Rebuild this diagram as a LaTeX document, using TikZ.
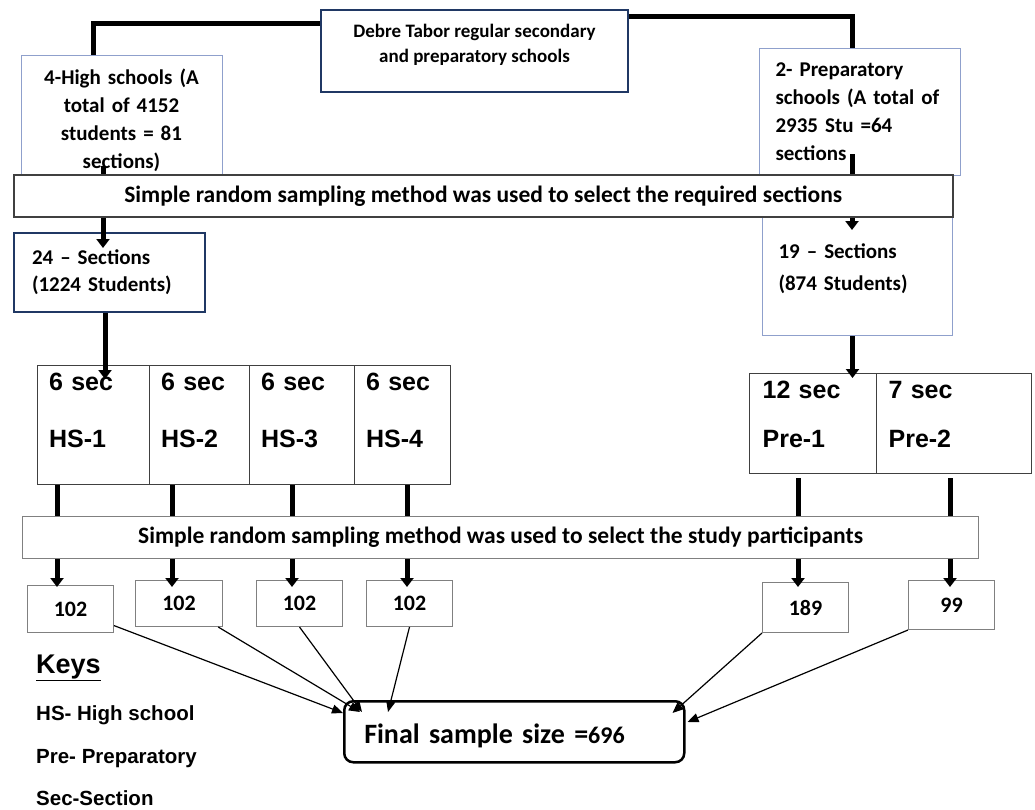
\documentclass[tikz,border=0pt]{standalone}
\usepackage{fontspec}
\setmainfont{Carlito}
\newfontfamily\arialfont{Liberation Sans}
\usetikzlibrary{arrows.meta}
\usetikzlibrary{positioning}

\definecolor{navyline}{RGB}{32,56,100}
\definecolor{paleline}{RGB}{143,160,204}
\definecolor{darkline}{RGB}{64,64,64}
\definecolor{greyline}{RGB}{128,128,128}

\tikzstyle{navybox} = [rectangle, draw=navyline, line width=2pt, anchor=north west]
\tikzstyle{palebox} = [rectangle, draw=paleline, line width=1pt, fill=white]
\tikzstyle{bodytext} = [font=\bfseries\fontsize{21}{28}\selectfont]
\tikzstyle{selbar} = [rectangle, fill=white, anchor=north west, minimum height=42pt, font=\bfseries\fontsize{23.5}{28}\selectfont]
\tikzstyle{secbox} = [rectangle, draw=darkline, line width=1.2pt, anchor=north west, align=left, inner ysep=0pt, font=\arialfont\bfseries\fontsize{25}{57}\selectfont]
\tikzstyle{numbox} = [rectangle, draw=greyline, line width=1pt, fill=white, anchor=north west, minimum width=86pt, font=\bfseries\fontsize{22}{26}\selectfont]
\tikzstyle{keytext} = [anchor=base west, inner sep=0pt, font=\arialfont\bfseries\fontsize{20.5}{24}\selectfont]
\tikzstyle{bigline} = [line width=5pt]
\tikzstyle{bigarrow} = [line width=5pt, -{Triangle[width=13pt,length=9pt]}]
\tikzstyle{thinarrow} = [line width=1.2pt, -{Triangle[width=9pt,length=11pt]}]

\begin{document}
\begin{tikzpicture}[x=1pt, y=-1pt]
\useasboundingbox (0,0) rectangle (1035,809);

% schools
\node (top) [navybox, minimum width=307pt, minimum height=82pt, align=center, text depth=15pt, font=\bfseries\fontsize{19}{25}\selectfont] at (320,9) {Debre Tabor regular secondary\\and preparatory schools};
\node (high) [palebox, bodytext, anchor=north, text width=180pt, inner xsep=10.5pt, inner ysep=13pt, align=center] at (121.5,55) {4-High schools (A\\total of 4152\\students = 81\\sections)};
\node (prep) [palebox, bodytext, anchor=north west, text width=169pt, inner xsep=16pt, inner ysep=14.5pt, align=left] at (759,48) {2- Preparatory\\schools (A total of\\2935 Stu =64\\sections};

% sampled sections
\node (sec24) [navybox, bodytext, minimum width=191pt, minimum height=79pt, text width=155pt, inner xsep=18pt, align=left, font=\bfseries\fontsize{21}{27}\selectfont] at (13,232) {24 -- Sections\\(1224 Students)};
\node (sec19) [palebox, bodytext, anchor=north west, minimum width=190pt, minimum height=119pt, text width=158pt, inner xsep=16pt, align=left, text depth=49.5pt, font=\bfseries\fontsize{21}{32}\selectfont] at (762,216) {19 -- Sections\\(874 Students)};

% schools with their sections
\node (hs1) [secbox, minimum width=112pt, minimum height=119pt, text width=89pt, inner xsep=11.5pt, text depth=87pt] at (37,365) {6 sec\\HS-1};
\node (hs2) [secbox, minimum width=100pt, minimum height=119pt, text width=77pt, inner xsep=11.5pt, text depth=87pt] at (149,365) {6 sec\\HS-2};
\node (hs3) [secbox, minimum width=105pt, minimum height=119pt, text width=82pt, inner xsep=11.5pt, text depth=87pt] at (249,365) {6 sec\\HS-3};
\node (hs4) [secbox, minimum width=96pt, minimum height=119pt, text width=73pt, inner xsep=11.5pt, text depth=87pt] at (354,365) {6 sec\\HS-4};
\node (pre1) [secbox, minimum width=127pt, minimum height=100pt, text width=101pt, inner xsep=13pt, text depth=68pt, font=\arialfont\bfseries\fontsize{25}{49}\selectfont] at (749,373) {12 sec\\Pre-1};
\node (pre2) [secbox, minimum width=155pt, minimum height=100pt, text width=131pt, inner xsep=12pt, text depth=68pt, font=\arialfont\bfseries\fontsize{25}{49}\selectfont] at (876,373) {7 sec\\Pre-2};

% participants
\node (n1) [numbox, minimum height=47pt] at (27,585) {102};
\node (n2) [numbox, minimum width=87pt, minimum height=46pt] at (135,580) {102};
\node (n3) [numbox, minimum height=46pt] at (256,580) {102};
\node (n4) [numbox, minimum height=46pt] at (366,580) {102};
\node (n5) [numbox, minimum height=50pt] at (762,582) {189};
\node (n6) [numbox, minimum height=49pt] at (908,580) {99};

% thick connectors
\draw[bigline] ([yshift=-14pt]top.north west) -| ([xshift=-28.5pt]high.north);
\draw[bigline] ([yshift=-7pt]top.north east) -| ([xshift=-7.5pt]prep.north);
\coordinate (hsdrop) at (103,166);
\coordinate (predrop) at (852,154);
\draw[bigarrow] (hsdrop) -- ++(0,82);
\draw[bigarrow] (predrop) -- ++(0,76);
\draw[bigarrow] ([xshift=-4.5pt]sec24.south) -- ++(0,66);
\draw[bigarrow] ([xshift=-5pt]sec19.south) -- ++(0,42);

\coordinate (tips) at (0,587);
\coordinate (c1) at (57,0);
\coordinate (c2) at (172,0);
\coordinate (c3) at (292,0);
\coordinate (c4) at (407,0);
\coordinate (c5) at (798,0);
\coordinate (c6) at (950,0);
\draw[bigarrow] (c1 |- hs1.south) -- (c1 |- tips);
\draw[bigarrow] (c2 |- hs2.south) -- (c2 |- tips);
\draw[bigarrow] (c3 |- hs3.south) -- (c3 |- tips);
\draw[bigarrow] (c4 |- hs4.south) -- (c4 |- tips);
\draw[bigarrow] ([yshift=-4pt]c5 |- pre1.south) -- (c5 |- tips);
\draw[bigarrow] ([yshift=-4pt]c6 |- pre2.south) -- (c6 |- tips);

% sampling steps
\node (sel1) [selbar, draw=darkline, line width=1.5pt, minimum width=939pt] at (13,174) {Simple random sampling method was used to select the required sections};
\node (sel2) [selbar, draw=greyline, line width=1.2pt, minimum width=956pt] at (22,516) {Simple random sampling method was used to select the study participants};

% final sample
\node (fin) [draw, rounded corners=9pt, line width=2.5pt, anchor=north west, minimum width=340pt, minimum height=61pt, text width=300pt, inner xsep=20pt, align=left, text height=30pt, text depth=6pt, font=\bfseries\fontsize{28}{34}\selectfont] at (343,700) {Final sample size =\fontsize{24}{34}\selectfont 696};

\draw[thinarrow] (n1) -- ([yshift=-13pt]fin.north west);
\draw[thinarrow] (n2) -- ([xshift=17pt,yshift=-12pt]fin.north west);
\draw[thinarrow] (n3.south) -- ([xshift=19pt,yshift=-12pt]fin.north west);
\draw[thinarrow] (n4.south) -- ([xshift=45pt,yshift=-12pt]fin.north west);
\draw[thinarrow] (n5.south west) -- ([xshift=-13pt,yshift=-13pt]fin.north east);
\draw[thinarrow] (n6.south west) -- ([xshift=2pt,yshift=-22pt]fin.north east);

% keys
\node (keys) [anchor=base west, inner sep=0pt, font=\arialfont\bfseries\fontsize{27}{32}\selectfont] at (36,673) {\underline{Keys}};
\node (hskey) [keytext] at (36,720) {HS- High school};
\node (prekey) [keytext] at (36,763) {Pre- Preparatory};
\node (seckey) [keytext] at (36,805) {Sec-Section};

\end{tikzpicture}
\end{document}
